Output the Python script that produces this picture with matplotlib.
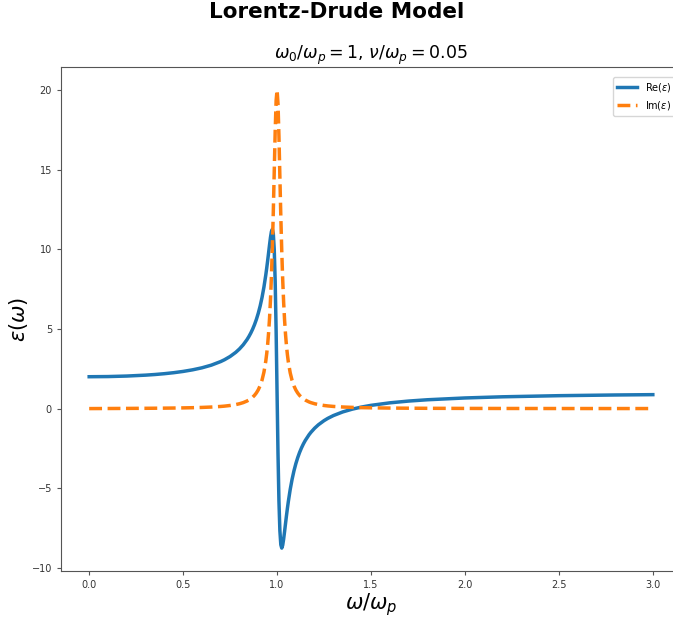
import matplotlib
matplotlib.use("Agg")
import matplotlib.pyplot as plt

# omega / omega_p
omega = [0.0, 0.1, 0.2, 0.3, 0.35, 0.4, 0.45, 0.5, 0.55, 0.6, 0.65, 0.7, 0.72,
         0.75, 0.78, 0.8, 0.82, 0.84, 0.85, 0.86, 0.87, 0.88, 0.89, 0.9, 0.91,
         0.92, 0.93, 0.94, 0.945, 0.95, 0.955, 0.96, 0.965, 0.97, 0.975, 0.98,
         0.985, 0.99, 0.995, 1.0, 1.005, 1.01, 1.015, 1.02, 1.025, 1.03, 1.035,
         1.04, 1.045, 1.05, 1.055, 1.06, 1.07, 1.08, 1.09, 1.1, 1.11, 1.12,
         1.13, 1.14, 1.15, 1.17, 1.18, 1.2, 1.22, 1.25, 1.27, 1.3, 1.35, 1.4,
         1.45, 1.5, 1.6, 1.7, 1.8, 2.0, 2.2, 2.5, 2.8, 3.0]

re_eps = [2.0, 2.010, 2.042, 2.099, 2.139, 2.190, 2.253, 2.332, 2.432, 2.559,
          2.726, 2.952, 3.065, 3.269, 3.529, 3.744, 4.005, 4.329, 4.521, 4.738,
          4.986, 5.270, 5.599, 5.984, 6.436, 6.975, 7.618, 8.387, 8.822, 9.289,
          9.780, 10.277, 10.744, 11.111, 11.254, 10.977, 9.990, 7.992, 4.875,
          1.0, -2.818, -5.804, -7.663, -8.544, -8.755, -8.574, -8.189, -7.716,
          -7.218, -6.729, -6.265, -5.834, -5.073, -4.437, -3.905, -3.456,
          -3.076, -2.749, -2.467, -2.221, -2.005, -1.644, -1.492, -1.231,
          -1.016, -0.756, -0.614, -0.437, -0.208, -0.036, 0.097, 0.203, 0.361,
          0.472, 0.554, 0.667, 0.740, 0.810, 0.854, 0.875]

im_eps = [0.0, 0.005, 0.011, 0.018, 0.023, 0.028, 0.035, 0.044, 0.056, 0.073,
          0.097, 0.134, 0.154, 0.195, 0.252, 0.305, 0.376, 0.475, 0.539, 0.617,
          0.713, 0.833, 0.985, 1.180, 1.439, 1.789, 2.278, 2.983, 3.455, 4.038,
          4.766, 5.680, 6.836, 8.298, 10.125, 12.346, 14.870, 17.391, 19.324,
          20.0, 19.139, 17.094, 14.545, 12.048, 9.876, 8.096, 6.677, 5.554,
          4.666, 3.959, 3.391, 2.930, 2.242, 1.764, 1.421, 1.167, 0.975, 0.825,
          0.707, 0.613, 0.536, 0.419, 0.375, 0.304, 0.252, 0.195, 0.167, 0.135,
          0.099, 0.076, 0.059, 0.048, 0.033, 0.024, 0.018, 0.011, 0.0075,
          0.0045, 0.0030, 0.0023]

fig = plt.figure(figsize=(6.73, 6.17), dpi=100)
ax = fig.add_axes([61 / 673, 1 - 571 / 617, (681 - 61) / 673, (571 - 67) / 617])

ax.plot(omega, re_eps, color="#1f77b4", lw=2.5, label=r"Re$(\varepsilon)$")
ax.plot(omega, im_eps, color="#ff7f0e", lw=2.5, ls="--", label=r"Im$(\varepsilon)$")

ax.set_xticks([0.0, 0.5, 1.0, 1.5, 2.0, 2.5, 3.0])
ax.set_yticks([-10, -5, 0, 5, 10, 15, 20])
ax.tick_params(labelsize=7, labelcolor="#333333", length=3, color="#555555")
for s in ax.spines.values():
    s.set_color("#555555")
    s.set_linewidth(0.8)

ax.set_xlabel(r"$\omega/\omega_p$", fontsize=15, labelpad=1)
ax.set_ylabel(r"$\varepsilon(\omega)$", fontsize=15, labelpad=1)
ax.set_title(r"$\omega_0/\omega_p = 1$, $\nu/\omega_p = 0.05$", fontsize=12.5, pad=4)
fig.suptitle("Lorentz-Drude Model", fontsize=15.5, fontweight="bold", y=0.997)

ax.legend(loc="upper right", fontsize=7, bbox_to_anchor=(0.9985, 0.99))

fig.savefig("out.png", dpi=100)
